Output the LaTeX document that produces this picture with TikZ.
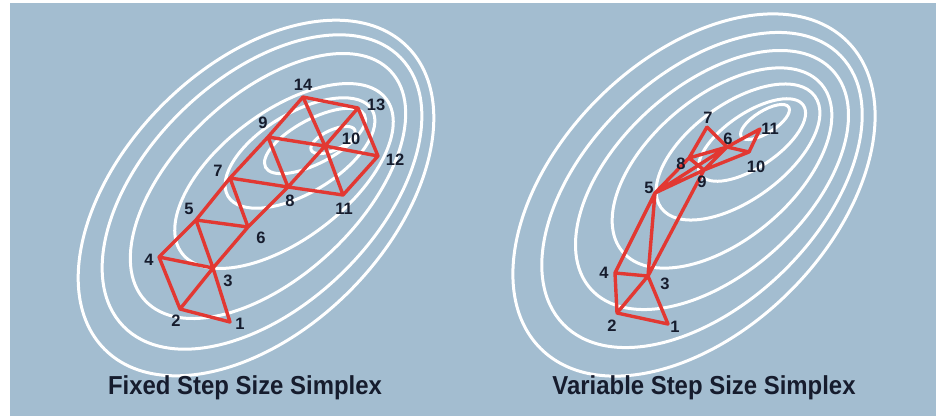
\documentclass[tikz,border=0pt]{standalone}
\usepackage{fontspec}
\setmainfont{Liberation Sans}
\definecolor{bgblue}{RGB}{163,189,208}
\definecolor{simplexred}{RGB}{226,56,50}
\definecolor{labelnavy}{RGB}{22,28,45}
\begin{document}
\begin{tikzpicture}[x=1pt,y=-1pt,
  contour/.style={draw=white,line width=3pt},
  edge/.style={draw=simplexred,line width=3.4pt,line cap=round,line join=round},
  vlabel/.style={font=\fontsize{16.5}{16.5}\selectfont\bfseries,text=labelnavy,inner sep=0pt},
  caption/.style={font=\fontsize{26}{26}\selectfont\bfseries,text=labelnavy,inner sep=0pt,xscale=0.92}]
\useasboundingbox (0,0) rectangle (943,416);
\fill[bgblue] (10,3) rectangle (936,416);
% left contours
\foreach \cx/\cy/\a/\b/\t in {256/198/214/132/45, 262/192/193/114/44, 268/186/168/91/43, 284/176/128/64/37, 300/153/84/40/31, 315/141/56/22/28, 333/140/24/10/25}
  \draw[contour,rotate around={\t:(\cx,\cy)}] (\cx,\cy) ellipse [x radius=\a, y radius=\b];
% right contours
\foreach \cx/\cy/\a/\b/\t in {694/195/217/136/45, 702/190/193/115/44, 712/180/163/94/42, 722/168/130/72/40, 738/152/95/48/36, 752/140/62/27/34, 765/122/28/11/32}
  \draw[contour,rotate around={\t:(\cx,\cy)}] (\cx,\cy) ellipse [x radius=\a, y radius=\b];
% left vertices
\coordinate (a1) at (230,322); \coordinate (a2) at (180,309); \coordinate (a3) at (213,268);
\coordinate (a4) at (159,257); \coordinate (a5) at (196,220); \coordinate (a6) at (248,227);
\coordinate (a7) at (230,178); \coordinate (a8) at (288,187); \coordinate (a9) at (268,137);
\coordinate (a10) at (325,146); \coordinate (a11) at (343,195); \coordinate (a12) at (378,156);
\coordinate (a13) at (358,108); \coordinate (a14) at (303,97);
\draw[edge] (a1) -- (a2) (a1) -- (a3) -- (a5)
  (a2) -- (a3) -- (a6) -- (a8) -- (a10) -- (a13)
  (a4) -- (a5) -- (a7) -- (a9) -- (a14)
  (a2) -- (a4) (a4) -- (a3) (a5) -- (a6) (a6) -- (a7)
  (a7) -- (a8) -- (a11) (a9) -- (a8) (a9) -- (a10) -- (a12)
  (a14) -- (a10) -- (a11) (a14) -- (a13) (a13) -- (a12) (a12) -- (a11);
% right vertices
\coordinate (b1) at (668,324); \coordinate (b2) at (617,313); \coordinate (b3) at (648,276);
\coordinate (b4) at (615,273); \coordinate (b5) at (655,193); \coordinate (b6) at (727,147);
\coordinate (b7) at (707,127); \coordinate (b8) at (689,158); \coordinate (b9) at (704,170);
\coordinate (b10) at (749,152); \coordinate (b11) at (760,129);
\draw[edge] (b1) -- (b2) (b1) -- (b3) (b2) -- (b3) (b2) -- (b4) (b3) -- (b4)
  (b4) -- (b5) (b3) -- (b5) (b3) -- (b9) (b5) -- (b8) (b5) -- (b9) (b5) -- (b6)
  (b8) -- (b9) (b8) -- (b7) (b7) -- (b6) (b8) -- (b6) (b9) -- (b6)
  (b6) -- (b10) (b6) -- (b11) (b10) -- (b11) (b9) -- (b10);
% left labels
\node[vlabel] (la1) at (240,324) {1};
\node[vlabel] (la2) at (176,321) {2};
\node[vlabel] (la3) at (228,281) {3};
\node[vlabel] (la4) at (149,260) {4};
\node[vlabel] (la5) at (189,209) {5};
\node[vlabel] (la6) at (261,238) {6};
\node[vlabel] (la7) at (218,171) {7};
\node[vlabel] (la8) at (290,201) {8};
\node[vlabel] (la9) at (263,123) {9};
\node[vlabel] (la10) at (351,139) {10};
\node[vlabel] (la11) at (344,209) {11};
\node[vlabel] (la12) at (395,160) {12};
\node[vlabel] (la13) at (376,105) {13};
\node[vlabel] (la14) at (303,85) {14};
% right labels
\node[vlabel] (lb1) at (675,327) {1};
\node[vlabel] (lb2) at (612,326) {2};
\node[vlabel] (lb3) at (665,284) {3};
\node[vlabel] (lb4) at (604,273) {4};
\node[vlabel] (lb5) at (649,188) {5};
\node[vlabel] (lb6) at (728,139) {6};
\node[vlabel] (lb7) at (708,118) {7};
\node[vlabel] (lb8) at (681,164) {8};
\node[vlabel] (lb9) at (702,182) {9};
\node[vlabel] (lb10) at (756,167) {10};
\node[vlabel] (lb11) at (770,129) {11};
% captions
\node[caption] (capL) at (245,388) {Fixed Step Size Simplex};
\node[caption] (capR) at (704,388) {Variable Step Size Simplex};
\end{tikzpicture}
\end{document}
